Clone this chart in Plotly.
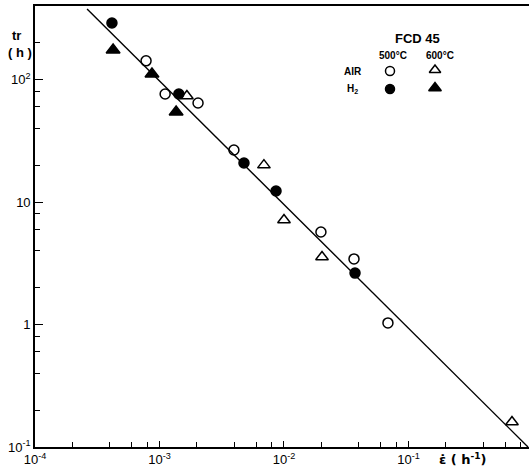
import plotly.graph_objects as go

# --- data ---
air500_x = [7.8e-4, 1.11e-3, 2.04e-3, 3.96e-3, 1.98e-2, 3.65e-2, 6.84e-2]
air500_y = [142, 76.2, 64.3, 26.6, 5.69, 3.43, 1.03]

h2_500_x = [4.15e-4, 1.43e-3, 4.77e-3, 8.63e-3, 3.72e-2]
h2_500_y = [289, 76.2, 20.8, 12.3, 2.63]

air600_x = [1.66e-3, 6.9e-3, 1.0e-2, 2.02e-2, 0.678]
air600_y = [73.3, 20.0, 7.13, 3.56, 0.16]

h2_600_x = [4.24e-4, 8.7e-4, 1.36e-3]
h2_600_y = [174, 111, 54.3]

fit_x = [2.62e-4, 0.912]
fit_y = [377, 0.1]

y_tickvals = [0.1, 1, 10, 100]
y_ticktext = ["10<sup>-1</sup>", "1", "10", "10<sup>2</sup>"]
x_tickvals = [1e-4, 1e-3, 1e-2, 1e-1]
x_ticktext = ["10<sup>-4</sup>", "10<sup>-3</sup>", "10<sup>-2</sup>", "10<sup>-1</sup>"]

minor_mult = [2, 4, 6, 8]
x_minor = [m * 10.0 ** e for e in range(-4, 0) for m in minor_mult]
y_minor = [m * 10.0 ** e for e in range(-1, 3) for m in minor_mult]

FONT = "Liberation Sans"
W, H = 529, 468
L, R, T, B = 35, 0, 6, 21
pw, ph = W - L - R, H - T - B


def px(xp):
    return (xp - L) / pw


def py(yp):
    return (H - B - yp) / ph


fig = go.Figure()
fig.add_trace(go.Scatter(x=fit_x, y=fit_y, mode="lines",
                         line=dict(color="black", width=1.4), showlegend=False))

styles = [
    ("circle-open", 10),
    ("circle", 10),
    ("triangle-up-open", 11),
    ("triangle-up", 12),
]
series = [(air500_x, air500_y), (h2_500_x, h2_500_y),
          (air600_x, air600_y), (h2_600_x, h2_600_y)]

for (sx, sy), (sym, size) in zip(series, styles):
    fig.add_trace(go.Scatter(x=sx, y=sy, mode="markers", showlegend=False,
                             marker=dict(symbol=sym, size=size, color="black",
                                         line=dict(color="black", width=1.5))))

# legend key markers on an overlay axis spanning the plot area (0..1)
key_pos = [(px(390), py(71)), (px(390), py(89)), (px(435), py(70)), (px(435), py(88))]
for (kx, ky), (sym, size) in zip(key_pos, styles):
    fig.add_trace(go.Scatter(x=[kx], y=[ky], mode="markers", showlegend=False,
                             xaxis="x2", yaxis="y2", hoverinfo="skip",
                             marker=dict(symbol=sym, size=size - 1, color="black",
                                         line=dict(color="black", width=1.5))))

axis_common = dict(
    type="log", showgrid=False, zeroline=False, showline=True,
    linecolor="black", linewidth=1.6, ticks="inside", tickcolor="black",
    tickwidth=1.2, tickfont=dict(family=FONT, size=13, color="black"),
    tickmode="array",
)

fig.update_layout(
    xaxis=dict(**axis_common, range=[-4, -0.032], mirror=True,
               tickvals=x_tickvals, ticktext=x_ticktext, ticklen=6,
               minor=dict(tickmode="array", tickvals=x_minor, ticks="inside",
                          ticklen=5, tickcolor="black", tickwidth=1.2)),
    yaxis=dict(**axis_common, range=[-1, 2.6],
               tickvals=y_tickvals, ticktext=y_ticktext, ticklen=8,
               minor=dict(tickmode="array", tickvals=y_minor, ticks="inside",
                          ticklen=5, tickcolor="black", tickwidth=1.2)),
    xaxis2=dict(overlaying="x", range=[0, 1], visible=False, fixedrange=True),
    yaxis2=dict(overlaying="y", range=[0, 1], visible=False, fixedrange=True),
)


def ann(x, y, text, size=11, family=FONT):
    fig.add_annotation(x=x, y=y, xref="paper", yref="paper", text=text,
                       showarrow=False, xanchor="center", yanchor="middle",
                       font=dict(family=family, size=size, color="black"))


ann(px(16), py(36), "<b>tr</b>", size=13)
ann(px(20), py(53), "<b>( h )</b>", size=13)
ann(px(463), py(459), "<b>ε̇ ( h<sup>-1</sup>)</b>", size=13, family="DejaVu Sans")

ann(px(417), py(38), "<b>FCD 45</b>", size=13)
ann(px(393), py(55), "<b>500°C</b>", size=10)
ann(px(440), py(55), "<b>600°C</b>", size=10)
ann(px(353), py(71), "<b>AIR</b>", size=10)
ann(px(352), py(89), "<b>H<sub>2</sub></b>", size=10)

fig.update_layout(width=W, height=H, margin=dict(l=L, r=R, t=T, b=B),
                  plot_bgcolor="white", paper_bgcolor="white", showlegend=False)

fig.write_html("out.html", config={"displayModeBar": False},
               post_script="document.body.style.margin='0';document.body.style.overflow='hidden';")
